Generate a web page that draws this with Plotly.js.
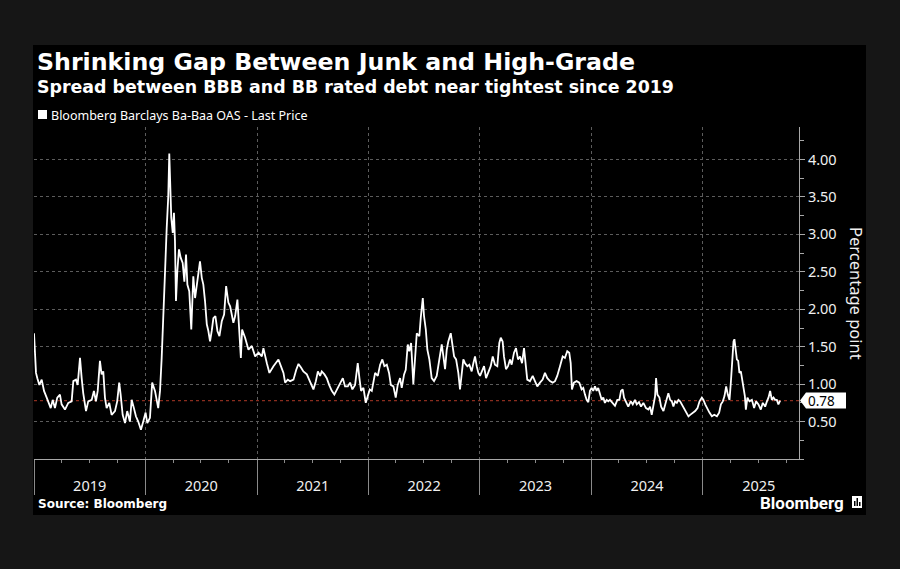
<!DOCTYPE html>
<html>
<head>
<meta charset="utf-8">
<script src="https://cdn.plot.ly/plotly-3.0.1.min.js"></script>
<style>
  html, body { margin: 0; padding: 0; background: #161616; }
  #chart { width: 900px; height: 569px; }
</style>
</head>
<body>
<div id="chart"></div>
<script>
// Bloomberg Barclays Ba-Baa OAS, percentage points.
// Dates are decimal years (e.g. 2020.214 ~ mid-March 2020).
const t2019 = [2019.000,2019.009,2019.018,2019.030,2019.048,2019.069,2019.090,2019.114,2019.135,2019.150,
  2019.168,2019.188,2019.209,2019.233,2019.248,2019.278,2019.308,2019.338,2019.353,2019.377,
  2019.392,2019.413,2019.428,2019.442,2019.467,2019.487,2019.518,2019.538,2019.556,2019.572,
  2019.592,2019.607,2019.622,2019.637,2019.652,2019.676,2019.697,2019.727,2019.747,2019.765,
  2019.778,2019.796,2019.817,2019.837,2019.861,2019.877,2019.897,2019.915,2019.936,2019.960,2019.981];
const v2019 = [1.68,1.35,1.15,1.08,0.99,1.06,0.91,0.82,0.75,0.68,
  0.79,0.68,0.82,0.86,0.73,0.66,0.75,0.77,1.04,1.06,
  0.99,1.35,1.08,0.88,0.64,0.77,0.79,0.91,0.77,0.91,
  1.31,1.13,1.17,0.82,0.68,0.75,0.59,0.64,0.77,1.02,
  0.86,0.59,0.48,0.64,0.50,0.79,0.68,0.57,0.50,0.39,0.50];

const t2020 = [2020.002,2020.017,2020.041,2020.061,2020.086,2020.115,2020.131,2020.146,2020.160,2020.175,
  2020.191,2020.205,2020.214,2020.223,2020.232,2020.245,2020.256,2020.265,2020.274,2020.286,
  2020.301,2020.316,2020.334,2020.349,2020.364,2020.376,2020.393,2020.411,2020.429,2020.445,
  2020.460,2020.474,2020.489,2020.505,2020.519,2020.534,2020.550,2020.564,2020.579,2020.594,
  2020.609,2020.627,2020.645,2020.663,2020.684,2020.705,2020.723,2020.743,2020.759,2020.788,
  2020.804,2020.824,2020.842,2020.855,2020.866,2020.893,2020.923,2020.953,2020.983];
const v2020 = [0.62,0.48,0.55,1.02,0.91,0.68,0.91,1.35,1.80,2.46,
  3.09,3.51,4.08,3.53,3.22,3.02,3.29,2.91,2.11,2.51,
  2.80,2.69,2.62,2.37,2.73,2.33,2.24,1.73,2.44,2.15,
  2.33,2.51,2.64,2.42,2.33,2.11,1.80,1.71,1.57,1.71,
  1.88,1.91,1.71,1.64,1.84,1.93,2.31,2.09,2.04,1.82,
  1.91,2.13,1.73,1.35,1.73,1.62,1.46,1.51,1.37];

const t2021 = [2021.013,2021.043,2021.057,2021.088,2021.111,2021.147,2021.192,2021.214,2021.237,2021.252,
  2021.276,2021.297,2021.327,2021.351,2021.372,2021.396,2021.416,2021.447,2021.476,2021.506,
  2021.528,2021.546,2021.566,2021.581,2021.605,2021.626,2021.647,2021.671,2021.694,2021.716,
  2021.746,2021.770,2021.790,2021.815,2021.835,2021.856,2021.880,2021.904,2021.919,2021.934,
  2021.955,2021.976,2021.994];
const v2021 = [1.42,1.37,1.48,1.28,1.15,1.24,1.33,1.24,1.15,1.02,
  1.06,1.04,1.06,1.19,1.27,1.22,1.17,1.13,1.04,0.93,
  1.04,1.17,1.11,1.17,1.13,1.08,0.99,0.91,0.86,0.93,
  1.02,1.08,0.97,0.97,1.02,0.93,0.99,1.28,1.08,0.91,
  0.95,0.75,0.84];

const t2022 = [2022.012,2022.030,2022.044,2022.060,2022.084,2022.105,2022.125,2022.143,2022.165,2022.185,
  2022.201,2022.224,2022.245,2022.263,2022.284,2022.299,2022.320,2022.335,2022.353,2022.367,
  2022.383,2022.403,2022.434,2022.457,2022.470,2022.488,2022.499,2022.515,2022.529,2022.547,
  2022.568,2022.589,2022.613,2022.637,2022.658,2022.673,2022.688,2022.703,2022.717,2022.739,
  2022.757,2022.769,2022.787,2022.807,2022.822,2022.838,2022.852,2022.867,2022.888,2022.906,
  2022.927,2022.942,2022.957,2022.972,2022.987];
const v2022 = [0.93,0.91,1.04,1.15,1.11,1.26,1.33,1.24,1.26,1.15,
  0.99,0.97,0.82,0.99,1.08,0.95,1.13,1.19,1.53,1.44,
  1.55,1.00,1.68,1.64,1.89,2.15,1.91,1.73,1.46,1.33,
  1.08,1.04,1.11,1.33,1.53,1.37,1.20,1.46,1.57,1.68,
  1.51,1.37,1.33,1.15,0.93,1.11,1.33,1.28,1.24,1.26,
  1.17,1.28,1.37,1.24,1.15];

const t2023 = [2023.002,2023.017,2023.038,2023.056,2023.076,2023.098,2023.116,2023.136,2023.157,2023.175,
  2023.188,2023.205,2023.217,2023.235,2023.253,2023.271,2023.286,2023.307,2023.325,2023.343,
  2023.361,2023.379,2023.397,2023.415,2023.426,2023.450,2023.475,2023.495,2023.516,2023.540,
  2023.564,2023.585,2023.606,2023.630,2023.654,2023.675,2023.695,2023.720,2023.744,2023.764,
  2023.785,2023.803,2023.816,2023.827,2023.845,2023.869,2023.893,2023.914,2023.929,2023.944,
  2023.959,2023.974,2023.989];
const v2023 = [1.11,1.17,1.24,1.08,1.15,1.24,1.37,1.26,1.24,1.55,
  1.62,1.57,1.37,1.20,1.24,1.33,1.26,1.42,1.48,1.33,
  1.37,1.28,1.48,1.20,1.06,1.04,1.11,1.04,0.97,1.02,
  1.06,1.15,1.08,1.04,1.02,1.04,1.11,1.24,1.37,1.35,
  1.44,1.42,1.28,0.93,1.02,1.04,1.02,0.93,0.95,0.86,
  0.79,0.76,0.91];

const t2024 = [2024.004,2024.018,2024.034,2024.049,2024.063,2024.079,2024.094,2024.108,2024.123,2024.139,
  2024.153,2024.168,2024.192,2024.213,2024.234,2024.252,2024.267,2024.282,2024.294,2024.312,
  2024.332,2024.354,2024.372,2024.392,2024.408,2024.428,2024.446,2024.467,2024.491,2024.512,
  2024.527,2024.542,2024.557,2024.572,2024.581,2024.593,2024.611,2024.626,2024.647,2024.662,
  2024.677,2024.691,2024.707,2024.722,2024.736,2024.751,2024.767,2024.781,2024.796,2024.812,
  2024.826,2024.841,2024.857,2024.871,2024.886,2024.910,2024.931,2024.952,2024.970,2024.991];
const v2024 = [0.95,0.91,0.97,0.91,0.95,0.86,0.79,0.82,0.75,0.79,
  0.77,0.79,0.75,0.71,0.79,0.79,0.91,0.93,0.82,0.75,
  0.70,0.77,0.73,0.79,0.73,0.76,0.70,0.75,0.68,0.66,
  0.70,0.59,0.75,0.84,1.08,0.86,0.82,0.70,0.64,0.73,
  0.79,0.88,0.79,0.77,0.70,0.77,0.75,0.79,0.77,0.73,
  0.68,0.66,0.62,0.57,0.59,0.62,0.64,0.68,0.77,0.82];

const t2025 = [2025.005,2025.021,2025.036,2025.059,2025.081,2025.102,2025.126,2025.146,2025.162,2025.179,
  2025.194,2025.209,2025.224,2025.239,2025.251,2025.263,2025.275,2025.283,2025.293,2025.305,
  2025.317,2025.328,2025.341,2025.353,2025.364,2025.377,2025.386,2025.400,2025.418,2025.440,
  2025.460,2025.478,2025.499,2025.520,2025.538,2025.559,2025.575,2025.589,2025.604,2025.619,
  2025.634,2025.649,2025.664,2025.678,2025.694];
const v2025 = [0.79,0.73,0.68,0.62,0.57,0.59,0.57,0.62,0.73,0.77,
  0.84,0.97,0.86,0.79,1.02,1.33,1.57,1.60,1.44,1.33,
  1.31,1.15,1.17,1.04,0.93,0.84,0.66,0.82,0.77,0.79,
  0.68,0.77,0.73,0.66,0.75,0.70,0.77,0.82,0.91,0.79,
  0.82,0.79,0.79,0.73,0.78];

const spreadTicks = [0.5, 1.0, 1.5, 2.0, 2.5, 3.0, 3.5, 4.0];
const seriesName = 'Bloomberg Barclays Ba-Baa OAS - Last Price';

// ---- assemble the series ----
const decYears = [].concat(t2019, t2020, t2021, t2022, t2023, t2024, t2025);
const spread   = [].concat(v2019, v2020, v2021, v2022, v2023, v2024, v2025);

function decimalYearToDate(y) {
  const Y = Math.floor(y);
  const start = Date.UTC(Y, 0, 1), end = Date.UTC(Y + 1, 0, 1);
  return new Date(start + (y - Y) * (end - start)).toISOString().replace('T', ' ').slice(0, 19);
}
const dates = decYears.map(decimalYearToDate);
const lastValue = spread[spread.length - 1];

// ---- page geometry helpers (pixels -> paper fractions) ----
const W = 900, H = 569;
const M = { l: 34, r: 101, t: 127, b: 110 };
const PW = W - M.l - M.r, PH = H - M.t - M.b;
const YMAX = 4.435;
const px = X => (X - M.l) / PW;
const py = Y => (H - M.b - Y) / PH;
const pxPerUnit = PH / YMAX;

const tickFont = { family: 'Noto Sans, sans-serif', size: 14.5, color: '#f0f0f0' };
const axisGrey = '#a8a8a8';

const trace = {
  type: 'scatter',
  mode: 'lines',
  x: dates,
  y: spread,
  name: seriesName,
  line: { color: '#ffffff', width: 1.8 },
  hoverinfo: 'skip'
};

// value flag on the right axis
const halfH = 8 / pxPerUnit;
const flagPath = 'M ' + px(800) + ',' + lastValue +
  ' L ' + px(806) + ',' + (lastValue + halfH) +
  ' L ' + px(846) + ',' + (lastValue + halfH) +
  ' L ' + px(846) + ',' + (lastValue - halfH) +
  ' L ' + px(806) + ',' + (lastValue - halfH) + ' Z';

const layout = {
  width: W, height: H,
  margin: M,
  paper_bgcolor: '#161616',
  plot_bgcolor: 'rgba(0,0,0,0)',
  showlegend: false,
  xaxis: {
    type: 'date',
    range: ['2019-01-01', '2025-11-12'],
    tick0: '2019-01-01',
    dtick: 'M12',
    tickformat: '%Y',
    ticklabelmode: 'period',
    ticks: 'outside',
    ticklen: 35,
    tickwidth: 1,
    tickcolor: '#8a8a8a',
    ticklabelstandoff: -21,
    tickfont: { family: 'Noto Sans, sans-serif', size: 14.5, color: '#f0f0f0' },
    showline: true,
    linecolor: axisGrey,
    linewidth: 1,
    showgrid: true,
    gridcolor: '#5c5c5c',
    griddash: 'dot',
    gridwidth: 1,
    zeroline: false,
    minor: { dtick: 'M3', ticks: 'outside', ticklen: 3, tickcolor: '#8a8a8a', showgrid: false },
    fixedrange: true
  },
  yaxis: {
    side: 'right',
    range: [0, YMAX],
    tickmode: 'array',
    tickvals: spreadTicks,
    ticktext: spreadTicks.map(v => v.toFixed(2)),
    ticks: 'outside',
    ticklen: 5,
    tickcolor: axisGrey,
    tickfont: tickFont,
    showline: true,
    linecolor: axisGrey,
    linewidth: 1,
    showgrid: true,
    gridcolor: '#5c5c5c',
    griddash: 'dot',
    zeroline: false,
    minor: { tick0: 0, dtick: 0.25, ticks: 'outside', ticklen: 4, tickcolor: axisGrey, showgrid: false },
    fixedrange: true
  },
  shapes: [
    // black chart panel
    { type: 'rect', xref: 'paper', yref: 'paper', x0: px(33), x1: px(866), y0: py(515), y1: py(45),
      fillcolor: '#000000', line: { width: 0 }, layer: 'below' },
    // last-value reference line
    { type: 'line', xref: 'paper', yref: 'y', x0: 0, x1: 1, y0: lastValue, y1: lastValue,
      line: { color: '#8a2d1f', width: 1.2, dash: 'dot' }, layer: 'below' },
    // last-value flag
    { type: 'path', xref: 'paper', yref: 'y', path: flagPath,
      fillcolor: '#ffffff', line: { width: 0 } },
    // legend swatch
    { type: 'rect', xref: 'paper', yref: 'paper', x0: px(38), x1: px(47), y0: py(119), y1: py(110),
      fillcolor: '#ffffff', line: { width: 0 } },
    // logo mark
    { type: 'rect', xref: 'paper', yref: 'paper', x0: px(852), x1: px(862), y0: py(508), y1: py(496),
      fillcolor: '#ffffff', line: { width: 0 } },
    { type: 'rect', xref: 'paper', yref: 'paper', x0: px(854), x1: px(855.5), y0: py(506), y1: py(501),
      fillcolor: '#000000', line: { width: 0 } },
    { type: 'rect', xref: 'paper', yref: 'paper', x0: px(856.5), x1: px(858), y0: py(506), y1: py(498),
      fillcolor: '#000000', line: { width: 0 } },
    { type: 'rect', xref: 'paper', yref: 'paper', x0: px(859), x1: px(860.5), y0: py(506), y1: py(502),
      fillcolor: '#000000', line: { width: 0 } }
  ],
  annotations: [
    { text: 'Shrinking Gap Between Junk and High-Grade', xref: 'paper', yref: 'paper',
      x: px(35), y: py(62), xanchor: 'left', yanchor: 'middle', showarrow: false,
      font: { family: 'DejaVu Sans, sans-serif', size: 23.7, weight: 700, color: '#ffffff' } },
    { text: 'Spread between BBB and BB rated debt near tightest since 2019', xref: 'paper', yref: 'paper',
      x: px(35), y: py(87), xanchor: 'left', yanchor: 'middle', showarrow: false,
      font: { family: 'DejaVu Sans, sans-serif', size: 17.4, weight: 700, color: '#ffffff' } },
    { text: seriesName, xref: 'paper', yref: 'paper',
      x: px(49), y: py(115), xanchor: 'left', yanchor: 'middle', showarrow: false,
      font: { family: 'Noto Sans, sans-serif', size: 12.5, color: '#ffffff' } },
    { text: 'Percentage point', xref: 'paper', yref: 'paper',
      x: px(857), y: py(293), xanchor: 'center', yanchor: 'middle', textangle: 90, showarrow: false,
      font: { family: 'Noto Sans, sans-serif', size: 16.5, color: '#f0f0f0' } },
    { text: lastValue.toFixed(2), xref: 'paper', yref: 'y',
      x: px(807), y: lastValue, xanchor: 'left', yanchor: 'middle', showarrow: false, borderpad: 0,
      font: { family: 'Noto Sans, sans-serif', size: 13.5, color: '#000000' } },
    { text: 'Source: Bloomberg', xref: 'paper', yref: 'paper',
      x: px(36), y: py(504), xanchor: 'left', yanchor: 'middle', showarrow: false,
      font: { family: 'DejaVu Sans, sans-serif', size: 12, weight: 700, color: '#ffffff' } },
    { text: 'Bloomberg', xref: 'paper', yref: 'paper',
      x: px(846), y: py(503), xanchor: 'right', yanchor: 'middle', showarrow: false,
      font: { family: 'Roboto, sans-serif', size: 17, weight: 700, color: '#ffffff' } }
  ]
};

Plotly.newPlot('chart', [trace], layout, { staticPlot: true, displayModeBar: false });
</script>
</body>
</html>
